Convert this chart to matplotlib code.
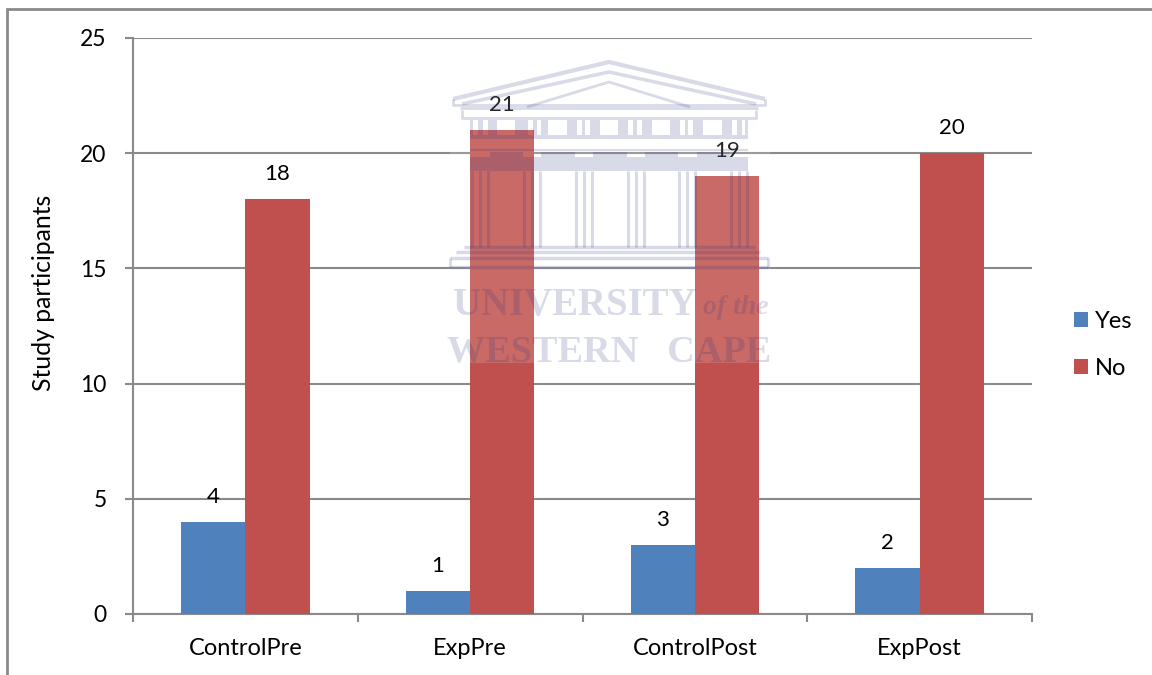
import matplotlib
matplotlib.use('Agg')
import matplotlib.pyplot as plt
from matplotlib.patches import Rectangle

plt.rcParams['font.family'] = ['Lato', 'DejaVu Sans']

categories = ['ControlPre', 'ExpPre', 'ControlPost', 'ExpPost']
yes_values = [4, 1, 3, 2]
no_values = [18, 21, 19, 20]
y_ticks = [0, 5, 10, 15, 20, 25]

W, H = 1152, 675
GRAY = '#8a8a8a'
BLUE = '#4f81bd'
RED = '#c0504d'
FS = 17

fig = plt.figure(figsize=(W / 100, H / 100), dpi=100)
ax = fig.add_axes([133 / W, (H - 614) / H, 899 / W, 576 / H])

x = range(len(categories))
width = 1 / 3.5
bars_yes = ax.bar([i - width / 2 for i in x], yes_values, width, color=BLUE, label='Yes', zorder=3)
bars_no = ax.bar([i + width / 2 for i in x], no_values, width, color=RED, label='No', zorder=3)

for bars in (bars_yes, bars_no):
    ax.bar_label(bars, padding=11, fontsize=16, color='black', zorder=5)

ax.set_xlim(-0.5, 3.5)
ax.set_ylim(0, 25)
ax.set_yticks(y_ticks)
ax.yaxis.grid(True, color=GRAY, lw=1.5, zorder=1)
ax.set_axisbelow(True)
ax.set_xticks([i - 0.5 for i in range(5)])
ax.set_xticklabels([])
ax.set_xticks(list(x), categories, minor=True, fontsize=FS)
ax.tick_params(axis='x', which='minor', length=0, pad=17)
ax.tick_params(axis='x', which='major', length=6, width=1.5, color=GRAY)
ax.tick_params(axis='y', length=6, width=1.5, color=GRAY, labelsize=16.5, pad=13)
for name in ('top', 'right'):
    ax.spines[name].set_visible(False)
for name in ('left', 'bottom'):
    ax.spines[name].set_color(GRAY)
    ax.spines[name].set_linewidth(1.5)
ax.set_ylabel('Study participants', fontsize=17.8)
ax.yaxis.set_label_coords((55 - 133) / 899, (614 - 293) / 576)

ax.legend(loc='center left', bbox_to_anchor=(1074 / W, (H - 345) / H),
          bbox_transform=fig.transFigure, frameon=False, fontsize=FS,
          handlelength=0.6, handleheight=0.6, handletextpad=0.3, labelspacing=1.12,
          borderpad=0, borderaxespad=0)

# overlay in pixel coordinates: page frame and the watermark pasted on top
ov = fig.add_axes([0, 0, 1, 1], zorder=4)
ov.set_xlim(0, W)
ov.set_ylim(H, 0)
ov.axis('off')
ov.patch.set_alpha(0)

ov.plot([7, 7, W], [H, 9, 9], color=GRAY, lw=2, solid_joinstyle='miter')

ov.add_patch(Rectangle((450, 60), 320, 303, color='white', alpha=0.15, lw=0))

INK = '#28327a'
A = 0.18


def box(x0, y0, x1, y1):
    ov.add_patch(Rectangle((x0, y0), x1 - x0, y1 - y0, facecolor=INK, alpha=A, lw=0))


def line(xs, ys, lw=2):
    ov.plot(xs, ys, color=INK, alpha=A, lw=lw, solid_capstyle='butt')


# pediment
line([453, 609, 765], [99, 62, 99], 3)
line([462, 609, 756], [104, 72, 104], 2.5)
line([527, 609, 690], [107, 82, 107], 2)
line([453, 453, 765, 765], [99, 105, 105, 99], 2)
line([460, 758], [108, 108], 2)
line([462, 462, 756, 756], [110, 118, 118, 110], 2)

# frieze: windows and the pairs of slits left open
gaps = [(473, 478), (483, 488), (497, 515), (528, 533), (537, 541), (548, 567),
        (577, 582), (585, 590), (600, 618), (628, 633), (637, 642), (652, 670),
        (680, 685), (688, 693), (703, 722), (732, 737), (742, 745)]
left = 470
for x0, x1 in gaps:
    box(left, 120, x0, 135)
    left = x1
box(left, 120, 748, 135)
box(470, 135, 748, 139)

# capitals and panels under them
for x0, x1 in [(490, 523), (541, 575), (593, 627), (645, 678), (697, 730)]:
    box(x0, 152, x1, 171)
for x0, x1 in [(470, 490), (523, 541), (575, 593), (627, 645), (678, 697), (730, 748)]:
    box(x0, 157, x1, 171)
line([470, 748], [150, 150], 1.5)
for xc in [480, 532, 584, 636, 687, 739]:
    for dx in (-8, 0, 8):
        line([xc + dx, xc + dx], [171, 247], 2.2)

# steps
line([464, 755], [247, 247], 2.5)
line([456, 760], [252, 252], 2.5)
line([450, 768], [258, 258], 2.5)
line([450, 768], [267, 267], 2.5)
line([450, 450], [258, 267], 2)
line([768, 768], [258, 267], 2)

ov.text(453, 305, 'UNIVERSITY', ha='left', va='center', family='Liberation Serif',
        fontsize=28, fontweight='bold', color=INK, alpha=A)
ov.text(769, 308, 'of the', ha='right', va='center', family='Liberation Serif',
        fontsize=20, style='italic', fontweight='bold', color=INK, alpha=A)
ov.text(609, 352, 'WESTERN   CAPE', ha='center', va='center', family='Liberation Serif',
        fontsize=27.5, fontweight='bold', color=INK, alpha=A)

fig.savefig('out.png', dpi=100)
